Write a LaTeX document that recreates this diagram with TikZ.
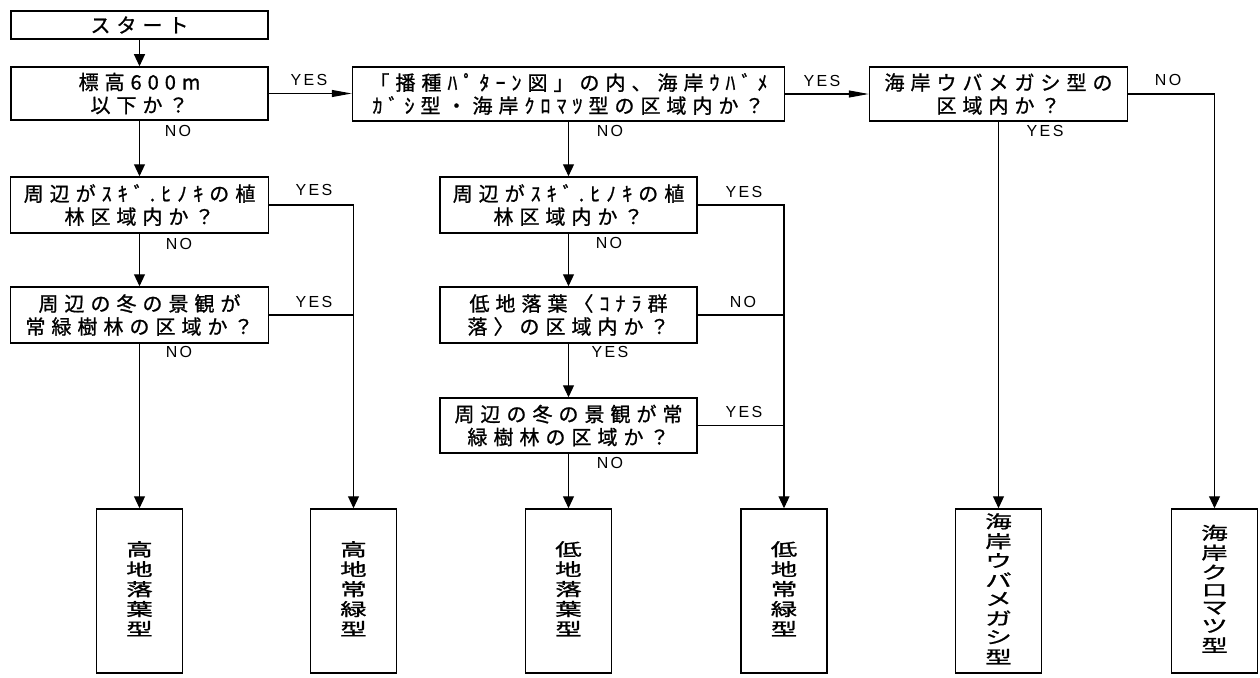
\documentclass[tikz,border=0pt]{standalone}
\usepackage{fontspec}
\usepackage{graphicx}
\usetikzlibrary{arrows.meta,calc}
\newfontfamily\jp{Noto Sans CJK JP}[LetterSpace=30,FakeBold=1]
\newfontfamily\jpv{Noto Sans CJK JP}[FakeBold=1]
\newfontfamily\lab{Liberation Sans}[LetterSpace=15]
\newcommand\vt[1]{\scalebox{1}[0.66]{\jpv\fontsize{26.5}{26.5}\selectfont\begin{tabular}{@{}c@{}}#1\end{tabular}}}
\tikzset{
  box/.style={draw, line width=1.5pt, inner sep=0pt, align=center, font=\jp\fontsize{20}{23}\selectfont},
  res/.style={draw, line width=1.5pt, inner sep=0pt, minimum width=86pt, minimum height=164pt},
  lbl/.style={font=\lab\fontsize{16}{16}\selectfont, inner sep=0pt},
  conn/.style={line width=1.1pt},
  arr/.style={conn, -{Triangle[width=11pt,length=12pt]}},
  harr/.style={conn, -{Triangle[width=7pt,length=20pt]}}
}
\begin{document}
\begin{tikzpicture}[x=1pt,y=-1pt]
\useasboundingbox (0,0) rectangle (1260,677);
% decision boxes
\node[box, minimum width=257pt, minimum height=28pt] (start) at (139.5,25) {スタート};
\node[box, minimum width=257pt, minimum height=53pt] (A) at (139.5,93.5) {標高600m\\以下か？};
\node[box, minimum width=432pt, minimum height=54pt] (B) at (568.5,94) {「播種ﾊﾟﾀｰﾝ図」の内、海岸ｳﾊﾞﾒ\\ｶﾞｼ型・海岸ｸﾛﾏﾂ型の区域内か？};
\node[box, minimum width=258pt, minimum height=54pt] (C) at (998.5,94) {海岸ウバメガシ型の\\区域内か？};
\node[box, minimum width=258pt, minimum height=56pt] (D) at (139.5,205) {周辺がｽｷﾞ.ﾋﾉｷの植\\林区域内か？};
\node[box, minimum width=258pt, minimum height=56pt] (E) at (139.5,315) {周辺の冬の景観が\\常緑樹林の区域か？};
\node[box, minimum width=257pt, minimum height=56pt] (F) at (568.5,205) {周辺がｽｷﾞ.ﾋﾉｷの植\\林区域内か？};
\node[box, minimum width=257pt, minimum height=56pt] (G) at (568.5,315) {低地落葉〈ｺﾅﾗ群\\落〉の区域内か？};
\node[box, minimum width=257pt, minimum height=55pt] (H) at (568.5,425.5) {周辺の冬の景観が常\\緑樹林の区域か？};
% result boxes
\node[res] (n1) at (139.5,591) {\vt{高\\地\\落\\葉\\型}};
\node[res] (n2) at (353.5,591) {\vt{高\\地\\常\\緑\\型}};
\node[res] (n3) at (568.5,591) {\vt{低\\地\\落\\葉\\型}};
\node[res] (n4) at (784,591) {\vt{低\\地\\常\\緑\\型}};
\node[res] (n5) at (998.5,591) {\vt{海\\岸\\ウ\\バ\\メ\\ガ\\シ\\型}};
\node[res] (n6) at (1214.5,591) {\vt{海\\岸\\ク\\ロ\\マ\\ツ\\型}};
% connectors
\draw[arr] (start) -- (A);
\draw[harr] (A.east) -- (A.east -| B.west);
\draw[harr] (B.east) -- (B.east -| C.west);
\draw[arr] (A) -- (D);
\draw[arr] (D) -- (E);
\draw[arr] (E) -- (n1);
\draw[arr] (D.east) -| (n2.north);
\draw[conn] (E.east) -- (E.east -| n2.north);
\draw[arr] (B) -- (F);
\draw[arr] (F) -- (G);
\draw[arr] (G) -- (H);
\draw[arr] (H) -- (n3);
\draw[arr] (F.east) -| (n4.north);
\draw[conn] (G.east) -- (G.east -| n4.north);
\draw[conn] (H.east) -- (H.east -| n4.north);
\draw[arr] (C) -- (n5);
\draw[arr] (C.east) -| (n6.north);
% labels
\node[lbl] (lA1) at (309,80) {YES};
\node[lbl] (lA2) at (178,131) {NO};
\node[lbl] (lB1) at (822,81) {YES};
\node[lbl] (lB2) at (610,131) {NO};
\node[lbl] (lC1) at (1168,80) {NO};
\node[lbl] (lC2) at (1045,131) {YES};
\node[lbl] (lD1) at (314,190) {YES};
\node[lbl] (lD2) at (179,244) {NO};
\node[lbl] (lE1) at (314,302) {YES};
\node[lbl] (lE2) at (179,352) {NO};
\node[lbl] (lF1) at (744,192) {YES};
\node[lbl] (lF2) at (609,243) {NO};
\node[lbl] (lG1) at (743,302) {NO};
\node[lbl] (lG2) at (610,352) {YES};
\node[lbl] (lH1) at (744,412) {YES};
\node[lbl] (lH2) at (610,463) {NO};
\end{tikzpicture}
\end{document}
